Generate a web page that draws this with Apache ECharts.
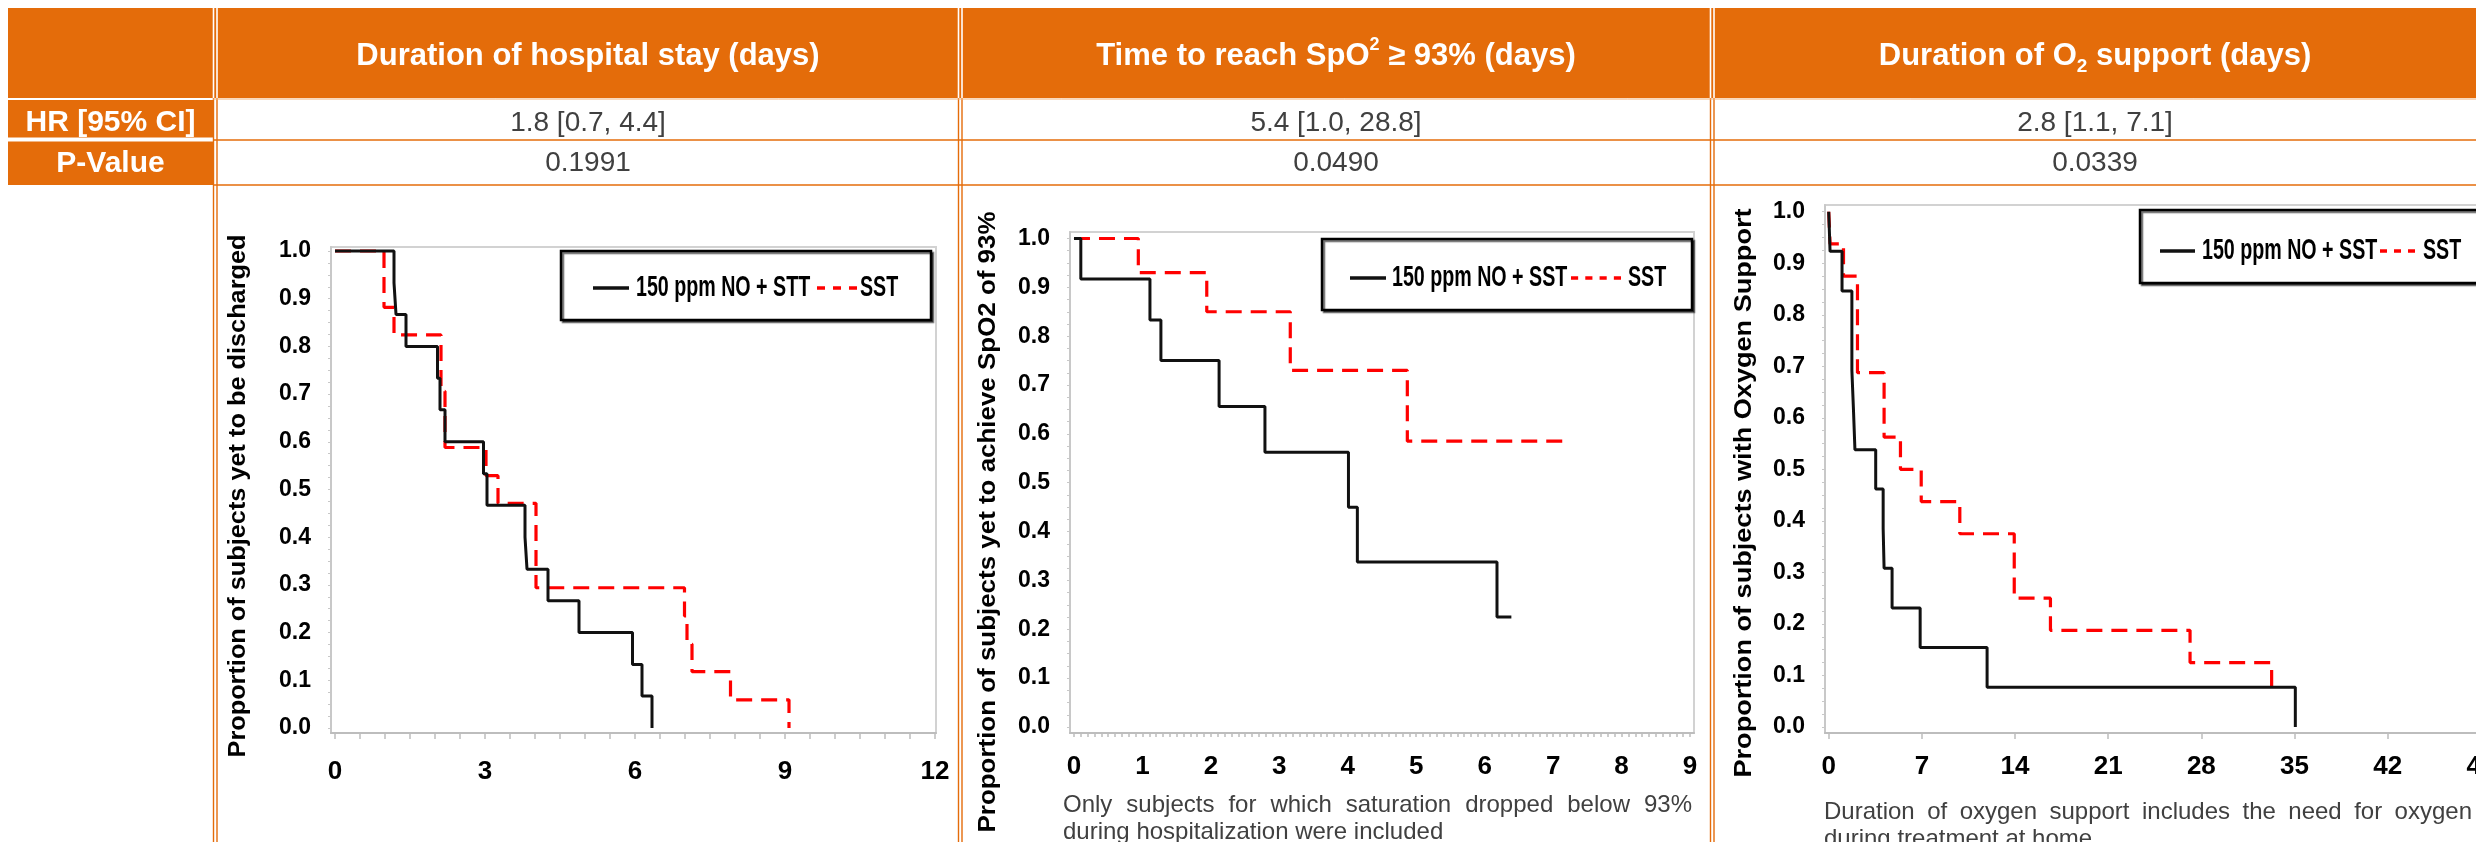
<!DOCTYPE html>
<html><head><meta charset="utf-8">
<script src="https://cdn.jsdelivr.net/npm/echarts@6/dist/echarts.min.js"></script>
<style>html,body{margin:0;padding:0;background:#fff}#c{width:2476px;height:842px}</style>
</head><body><div id="c"></div><script>
// ================= DATA =================
const columnTitles = ['Duration of hospital stay (days)', 'Time to reach SpO{sup|2} \u2265 93% (days)', 'Duration of O{sub|2} support (days)'];
const rowLabels = ['HR [95% CI]', 'P-Value'];
const hrValues = ['1.8 [0.7, 4.4]', '5.4 [1.0, 28.8]', '2.8 [1.1, 7.1]'];
const pValues = ['0.1991', '0.0490', '0.0339'];

// Panel 1: duration of hospital stay
const hospNoTime = [0, 1.18, 1.22, 1.42, 2.05, 2.1, 2.2, 2.97, 3.04, 3.8, 3.84, 4.26, 4.88, 5.95, 6.14, 6.34];
const hospNoProp = [1.0, 0.933, 0.867, 0.8, 0.733, 0.667, 0.6, 0.533, 0.467, 0.4, 0.333, 0.267, 0.2, 0.133, 0.067, 0.0];
const hospSstTime = [0, 0.98, 1.18, 2.12, 2.2, 3.02, 3.26, 4.02, 6.99, 7.04, 7.14, 7.91, 9.08];
const hospSstProp = [1.0, 0.882, 0.824, 0.706, 0.588, 0.529, 0.471, 0.294, 0.235, 0.176, 0.118, 0.059, 0.0];

// Panel 2: time to reach SpO2 >= 93%
const spoNoTime = [0, 0.10, 1.11, 1.27, 2.12, 2.79, 4.01, 4.14, 6.18, 6.39];
const spoNoProp = [1.0, 0.917, 0.833, 0.75, 0.656, 0.5625, 0.45, 0.3375, 0.225, 0.225];
const spoSstTime = [0, 0.94, 1.94, 3.16, 4.87, 7.17];
const spoSstProp = [1.0, 0.93, 0.85, 0.73, 0.585, 0.585];

// Panel 3: duration of O2 support
const o2NoTime = [0, 0.1, 1.0, 1.74, 1.86, 1.97, 3.53, 4.09, 4.16, 4.76, 6.87, 11.9, 35.06];
const o2NoProp = [1.0, 0.923, 0.846, 0.692, 0.615, 0.538, 0.462, 0.385, 0.308, 0.231, 0.154, 0.077, 0.0];
const o2SstTime = [0, 0.1, 1.11, 2.16, 4.16, 5.39, 6.95, 9.85, 13.94, 16.66, 27.15, 33.28];
const o2SstProp = [1.0, 0.9375, 0.875, 0.6875, 0.5625, 0.5, 0.4375, 0.375, 0.25, 0.1875, 0.125, 0.0625];

const legendNames = [['150 ppm NO + STT', 'SST'], ['150 ppm NO + SST', 'SST'], ['150 ppm NO + SST', 'SST']];
const yTitles = ['Proportion of subjects yet to be discharged', 'Proportion of subjects yet to achieve SpO2 of 93%', 'Proportion of subjects with Oxygen Support'];
const xTickLabels = [[0, 3, 6, 9, 12], [0, 1, 2, 3, 4, 5, 6, 7, 8, 9], [0, 7, 14, 21, 28, 35, 42, 49, 56]];
const yTickLabels = [0, 0.1, 0.2, 0.3, 0.4, 0.5, 0.6, 0.7, 0.8, 0.9, 1.0];
const notes = [null,
  ['Only subjects for which saturation dropped below 93%', 'during hospitalization were included'],
  ['Duration of oxygen support includes the need for oxygen', 'during treatment at home']];

// ================= LAYOUT =================
const FONT = '"Liberation Sans", Arial, Helvetica, sans-serif';
const ORANGE = '#E46C0A';
const GREY = '#404040';
const layout = [
  { grid: {left: 331, top: 247, width: 605, height: 486}, xMin: -0.08, xMax: 12.02, yMin: -0.0105, yMax: 1.0084,
    xTickStep: 0.5, xTickLen: 6, xLabelMargin: 26, yTitle: {x: 239, y: 496, len: 523},
    legend: {x: 561, y: 251, w: 370, h: 69, ty: 288, bx: [593, 629], tx: 636, rx: [817, 857], rn: 3, sx: 860} },
  { grid: {left: 1070, top: 232, width: 624, height: 501}, xMin: -0.058, xMax: 9.058, yMin: -0.0123, yMax: 1.0133,
    xTickStep: 0.1, xTickLen: 4, xLabelMargin: 21, yTitle: {x: 989, y: 522, len: 621},
    legend: {x: 1322, y: 239, w: 370, h: 71, ty: 278, bx: [1350, 1386], tx: 1392, rx: [1571, 1621], rn: 4, sx: 1628},
    note: {x0: 1063, x1: 1692, y1: 805, y2: 832} },
  { grid: {left: 1825, top: 205, width: 749, height: 528}, xMin: -0.28, xMax: 56, yMin: -0.0117, yMax: 1.013,
    xTickStep: 7, xTickLen: 6, xLabelMargin: 21, yTitle: {x: 1745, y: 493, len: 569},
    legend: {x: 2140, y: 210, w: 400, h: 73, ty: 251, bx: [2160, 2195], tx: 2202, rx: [2380, 2415], rn: 3, sx: 2423},
    note: {x0: 1824, x1: 2472, y1: 812, y2: 839} }
];
const seriesData = [
  [[hospNoTime, hospNoProp], [hospSstTime, hospSstProp]],
  [[spoNoTime, spoNoProp], [spoSstTime, spoSstProp]],
  [[o2NoTime, o2NoProp], [o2SstTime, o2SstProp]]
];

const mctx = document.createElement('canvas').getContext('2d');
function measure(str, font) { mctx.font = font; return mctx.measureText(str).width; }
function textWidth(str, weight, size) { return measure(str, weight + ' ' + size + 'px ' + FONT); }
function pairs(t, p) { return t.map((v, i) => [v, p[i]]); }
function range(a, b, step) { const out = []; const n = Math.round((b - a) / step); for (let i = 0; i <= n; i++) out.push(Math.round((a + i * step) * 1000) / 1000); return out; }

const grids = [], xAxes = [], yAxes = [], series = [], graphics = [];

// ---- table ----
graphics.push({type: 'rect', shape: {x: 8, y: 8, width: 2468, height: 90}, style: {fill: ORANGE}, silent: true});
graphics.push({type: 'rect', shape: {x: 8, y: 100, width: 205, height: 37.5}, style: {fill: ORANGE}, silent: true});
graphics.push({type: 'rect', shape: {x: 8, y: 141.5, width: 205, height: 43.5}, style: {fill: ORANGE}, silent: true});
[[213.5, 217], [958.5, 962], [1710.5, 1714]].forEach(pair => {
  pair.forEach(x => {
    graphics.push({type: 'line', shape: {x1: x, y1: 8, x2: x, y2: 98}, style: {stroke: '#fff', lineWidth: 1.6}, silent: true});
    graphics.push({type: 'line', shape: {x1: x, y1: 98, x2: x, y2: 842}, style: {stroke: ORANGE, lineWidth: 1.4}, silent: true});
  });
});
[140, 185].forEach(y => graphics.push({type: 'line', shape: {x1: 213, y1: y, x2: 2476, y2: y}, style: {stroke: ORANGE, lineWidth: 1.6}, silent: true}));
graphics.push({type: 'line', shape: {x1: 213, y1: 99, x2: 2476, y2: 99}, style: {stroke: '#F3B27A', lineWidth: 1}, silent: true});

const colCenters = [588, 1336, 2095];
columnTitles.forEach((t, i) => {
  graphics.push({type: 'text', x: colCenters[i], y: 56, silent: true, style: {
    text: t, fill: '#fff', fontSize: 31, fontWeight: 'bold', fontFamily: FONT, lineHeight: 40,
    textAlign: 'center', textVerticalAlign: 'middle', align: 'center', verticalAlign: 'middle',
    rich: {
      sup: {fontSize: 18, fontWeight: 'bold', fontFamily: FONT, fill: '#fff', lineHeight: 28, verticalAlign: 'top'},
      sub: {fontSize: 19, fontWeight: 'bold', fontFamily: FONT, fill: '#fff', lineHeight: 20, verticalAlign: 'bottom'}
    }}});
  graphics.push({type: 'text', x: colCenters[i], y: 123, silent: true, style: {text: hrValues[i], fill: GREY, fontSize: 28, fontFamily: FONT, textAlign: 'center', textVerticalAlign: 'middle', align: 'center', verticalAlign: 'middle'}});
  graphics.push({type: 'text', x: colCenters[i], y: 163.5, silent: true, style: {text: pValues[i], fill: GREY, fontSize: 28, fontFamily: FONT, textAlign: 'center', textVerticalAlign: 'middle', align: 'center', verticalAlign: 'middle'}});
});
[123, 163.5].forEach((y, i) => graphics.push({type: 'text', x: 110.5, y, silent: true, style: {text: rowLabels[i], fill: '#fff', fontSize: 30, fontWeight: 'bold', fontFamily: FONT, textAlign: 'center', textVerticalAlign: 'middle', align: 'center', verticalAlign: 'middle'}}));

// ---- panels ----
layout.forEach((L, i) => {
  grids.push(Object.assign({show: true, borderColor: '#d2d2d2', borderWidth: 2, backgroundColor: 'transparent', containLabel: false, outerBoundsMode: 'none'}, L.grid));
  xAxes.push({gridIndex: i, type: 'value', min: L.xMin, max: L.xMax,
    axisLine: {show: true, onZero: false, lineStyle: {color: '#bdbdbd', width: 2}},
    axisTick: {show: true, customValues: range(0, xTickLabels[i][xTickLabels[i].length - 1], L.xTickStep), length: L.xTickLen, lineStyle: {color: '#bdbdbd', width: 1.5}},
    axisLabel: {customValues: xTickLabels[i], margin: L.xLabelMargin, fontSize: 26, fontWeight: 'bold', fontFamily: FONT, color: '#000'},
    splitLine: {show: false}});
  yAxes.push({gridIndex: i, type: 'value', min: L.yMin, max: L.yMax,
    axisLine: {show: true, onZero: false, lineStyle: {color: '#c8c8c8', width: 2}},
    axisTick: {show: true, customValues: range(0, 1, 0.025), length: 3, lineStyle: {color: '#c8c8c8', width: 1}},
    axisLabel: {customValues: yTickLabels, margin: 20, fontSize: 23, fontWeight: 'bold', fontFamily: FONT, color: '#000', formatter: v => v.toFixed(1)},
    splitLine: {show: false}});
  const [noD, sstD] = seriesData[i];
  series.push({type: 'line', xAxisIndex: i, yAxisIndex: i, step: 'end', data: pairs(sstD[0], sstD[1]), symbol: 'none', showSymbol: false, silent: true, animation: false, z: 3,
    lineStyle: {color: '#ff0000', width: 3.2, type: [16, 9]}});
  series.push({type: 'line', xAxisIndex: i, yAxisIndex: i, step: 'end', data: pairs(noD[0], noD[1]), symbol: 'none', showSymbol: false, silent: true, animation: false, z: 4,
    lineStyle: {color: '#111', width: 3}});

  // y title (stretched along its length like the source)
  const tw = textWidth(yTitles[i], 'bold', 23);
  graphics.push({type: 'text', x: L.yTitle.x, y: L.yTitle.y, rotation: Math.PI / 2, scaleX: L.yTitle.len / tw, silent: true,
    style: {text: yTitles[i], fill: '#000', fontSize: 23, fontWeight: 'bold', fontFamily: FONT, textAlign: 'center', textVerticalAlign: 'middle', align: 'center', verticalAlign: 'middle'}});

  // legend box
  const G = L.legend;
  graphics.push({type: 'rect', z: 20, shape: {x: G.x, y: G.y, width: G.w, height: G.h}, silent: true,
    style: {fill: '#fff', stroke: '#000', lineWidth: 2.5, shadowColor: 'rgba(0,0,0,0.55)', shadowOffsetX: 2, shadowOffsetY: 2, shadowBlur: 1}});
  graphics.push({type: 'line', z: 21, shape: {x1: G.bx[0], y1: G.ty, x2: G.bx[1], y2: G.ty}, style: {stroke: '#111', lineWidth: 3.5}, silent: true});
  const dl = (G.rx[1] - G.rx[0]) / (G.rn * 2 - 1);
  for (let k = 0; k < G.rn; k++) {
    const x1 = G.rx[0] + k * 2 * dl;
    graphics.push({type: 'line', z: 21, shape: {x1, y1: G.ty, x2: x1 + dl, y2: G.ty}, style: {stroke: '#ff0000', lineWidth: 3.5}, silent: true});
  }
  [[G.tx, legendNames[i][0]], [G.sx, legendNames[i][1]]].forEach(([x, t]) => {
    graphics.push({type: 'text', z: 21, x, y: G.ty, scaleX: 0.655, silent: true,
      style: {text: t, fill: '#000', fontSize: 30, fontWeight: 'bold', fontFamily: FONT, textAlign: 'left', textVerticalAlign: 'middle', align: 'left', verticalAlign: 'middle'}});
  });

  // notes
  if (notes[i]) {
    const N = L.note;
    const words = notes[i][0].split(' ');
    const ws = words.map(w => textWidth(w, 'normal', 24));
    const gap = (N.x1 - N.x0 - ws.reduce((a, b) => a + b, 0)) / (words.length - 1);
    let x = N.x0;
    words.forEach((w, k) => {
      graphics.push({type: 'text', x, y: N.y1, silent: true, style: {text: w, fill: GREY, fontSize: 24, fontFamily: FONT, textAlign: 'left', textVerticalAlign: 'middle', align: 'left', verticalAlign: 'middle'}});
      x += ws[k] + gap;
    });
    graphics.push({type: 'text', x: N.x0, y: N.y2, silent: true, style: {text: notes[i][1], fill: GREY, fontSize: 24, fontFamily: FONT, textAlign: 'left', textVerticalAlign: 'middle', align: 'left', verticalAlign: 'middle'}});
  }
});

const chart = echarts.init(document.getElementById('c'), null, {renderer: 'canvas'});
chart.setOption({
  animation: false,
  backgroundColor: '#fff',
  grid: grids, xAxis: xAxes, yAxis: yAxes, series: series,
  graphic: {elements: graphics}
});
</script></body></html>
